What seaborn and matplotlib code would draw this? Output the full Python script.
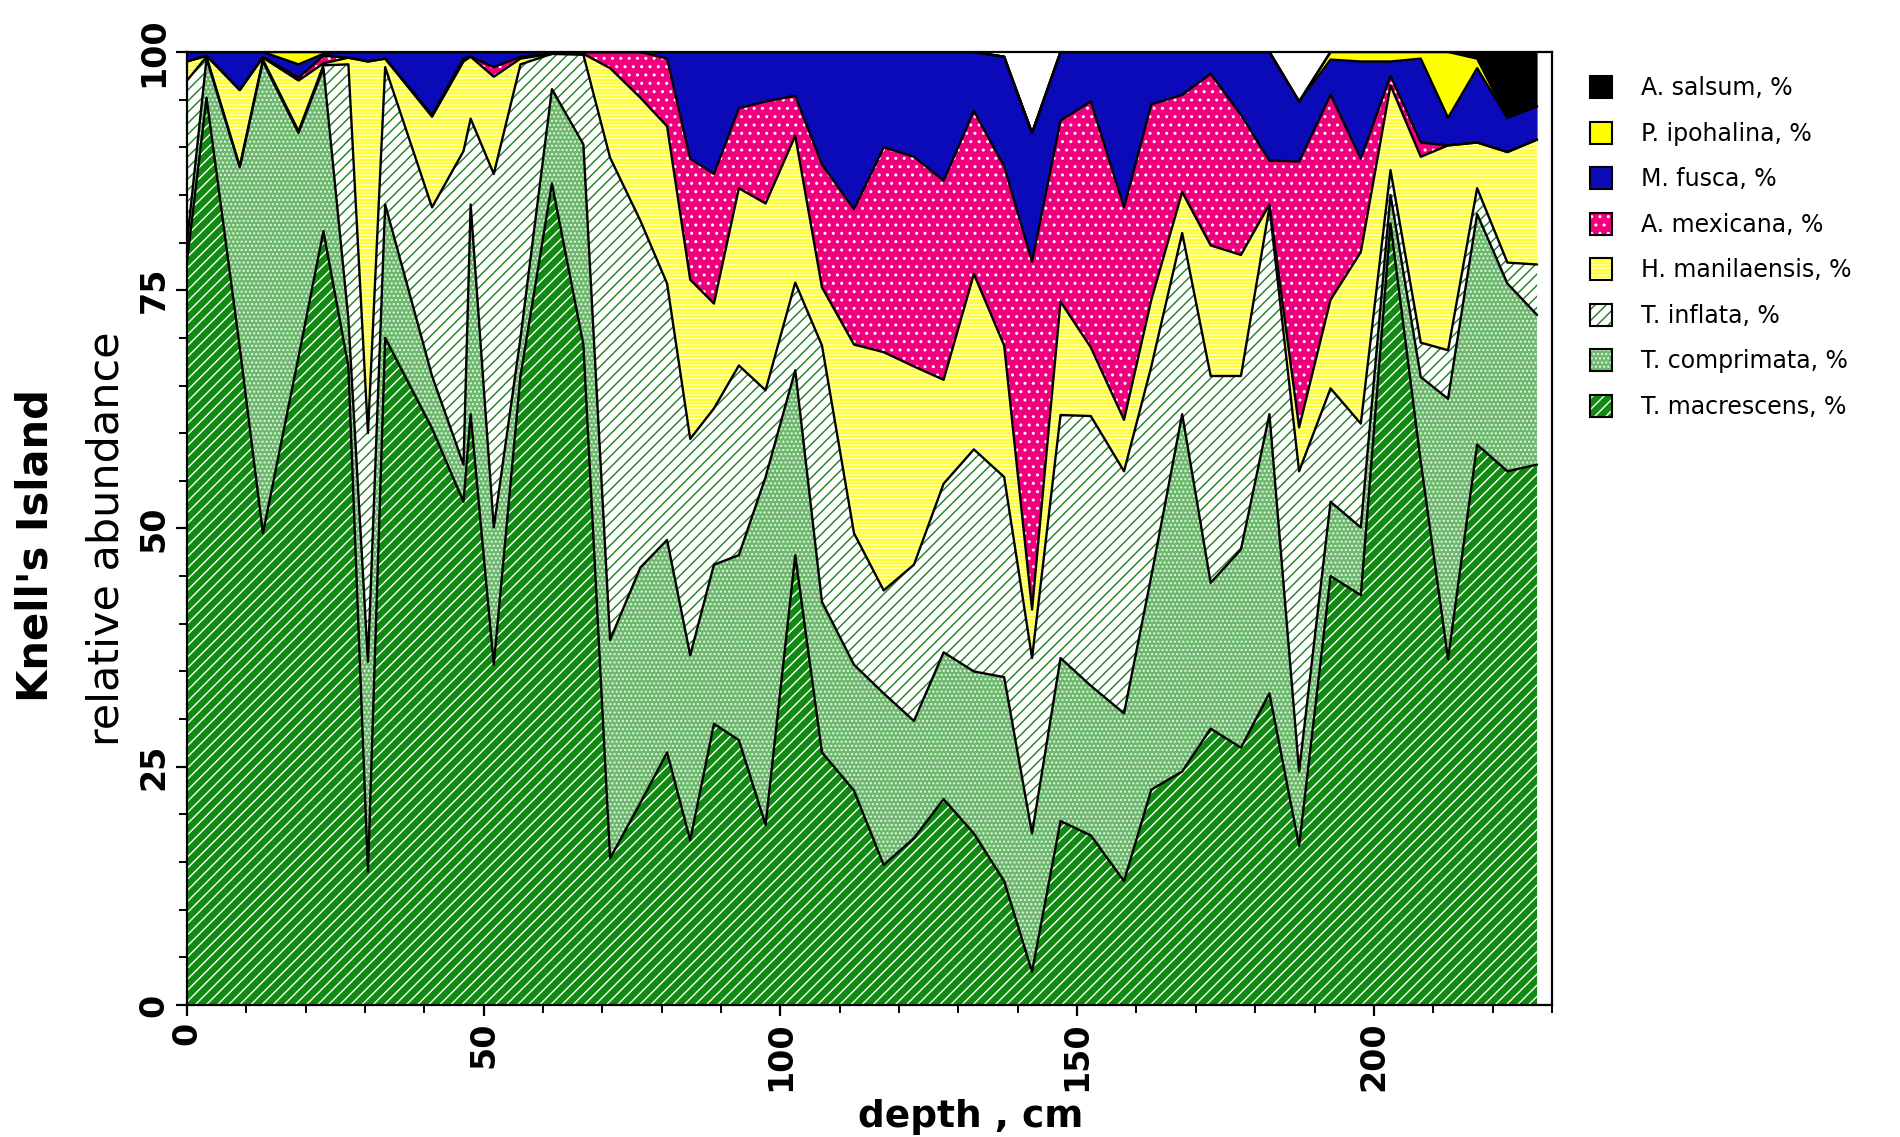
import numpy as np
import matplotlib
matplotlib.use("Agg")
import matplotlib.pyplot as plt
import seaborn as sns
from matplotlib.patches import Rectangle
from matplotlib.legend_handler import HandlerBase
from matplotlib.ticker import MultipleLocator

# ---------------- data ----------------
depth = [0, 3.3, 8.9, 12.8, 18.8, 23, 27.2, 30.5, 33.4, 41.3,
         46.6, 47.8, 51.7, 56.2, 61.5, 66.8, 71.3, 76.4, 80.9, 84.8,
         88.8, 93, 97.5, 102.5, 107, 112.4, 117.4, 122.5, 127.5, 132.6,
         137.7, 142.4, 147.2, 152.3, 157.9, 162.5, 167.7, 172.5, 177.6, 182.4,
         187.4, 192.7, 197.8, 202.8, 207.9, 212.5, 217.4, 222.5, 227.5]

t_macrescens = [78, 95.2, 69, 49.5, 68, 81.2, 67, 14, 70, 60.5,
                52.8, 62, 35.7, 66, 86.2, 69.3, 15.4, 21.2, 26.5, 17.3,
                29.5, 27.8, 18.9, 47.2, 26.5, 22.5, 14.7, 17.5, 21.6, 18,
                13, 3.5, 19.3, 17.8, 13, 22.6, 24.5, 29, 27, 32.7,
                16.7, 45, 43, 82, 57, 36.3, 58.8, 56, 56.7]
t_comprimata = [2, 4.1, 18.9, 49.5, 23.5, 17.1, 5, 22, 14, 5.5,
                3.9, 22, 14.4, 4, 9.9, 21, 22.9, 24.7, 22.3, 19.4,
                16.7, 19.4, 36.5, 19.4, 15.8, 13.2, 18, 12.3, 15.4, 17,
                21.4, 14.5, 17.1, 15.7, 17.6, 22.4, 37.5, 15.3, 20.8, 29.3,
                7.8, 7.8, 7.1, 3, 8.9, 27.3, 24.2, 19.7, 15.7]
t_inflata = [17, 0.2, 0.1, 0.2, 0.2, 0.3, 26.7, 24, 14.4, 17.7,
             32.9, 9, 37.1, 28.7, 3.7, 9.4, 50.6, 36.4, 26.9, 22.7,
             16.4, 19.9, 9.1, 9.2, 26.9, 13.8, 10.8, 16.4, 17.7, 23.3,
             21, 18.4, 25.5, 28.3, 25.4, 22, 19, 21.7, 18.2, 21.7,
             31.5, 11.9, 10.9, 2.6, 3.6, 5.1, 2.7, 2.2, 5.3]
h_manilaensis = [2, 0.1, 8, 0.2, 5.3, 0.2, 0.7, 39, 0.9, 9.5,
                 9.4, 6.5, 10.2, 0.6, 0, 0.1, 9.4, 12.9, 16.5, 16.7,
                 11, 18.6, 19.6, 15.4, 6.1, 19.8, 25, 20.8, 10.9, 18.4,
                 13.8, 5.1, 11.9, 7.2, 5.4, 7, 4.3, 13.7, 12.7, 0.3,
                 4.6, 9.3, 18, 8.9, 19.5, 21.5, 4.8, 11.6, 13.1]
a_mexicana = [0, 0, 0, 0.1, 0.3, 0.8, 0, 0, 0, 0.2,
              0.3, 0, 1, 0.2, 0, 0.2, 1.7, 4.8, 7.1, 12.7,
              13.6, 8.4, 10.7, 4.2, 12.9, 14.2, 21.5, 22, 20.9, 17.1,
              18.8, 36.5, 19, 25.8, 22.3, 20.5, 10.2, 18, 14.7, 4.6,
              27.9, 21.5, 9.8, 1, 1.5, 0, 0, 0, 0]
m_fusca = [1, 0.4, 4, 0.5, 1.4, 0.2, 0.6, 1, 0.7, 6.6,
           0.7, 0.5, 1.6, 0.5, 0.2, 0, 0, 0, 0.7, 11.2,
           12.8, 5.9, 5.2, 4.6, 11.8, 16.5, 10, 11, 13.5, 6.2,
           11.5, 13.5, 7.2, 5.2, 16.3, 5.5, 4.5, 2.3, 6.6, 11.4,
           6.3, 3.7, 10.2, 1.5, 8.8, 2.9, 7.8, 3.6, 3.5]
p_ipohalina = [0, 0, 0, 0, 1.3, 0.2, 0, 0, 0, 0,
               0, 0, 0, 0, 0, 0, 0, 0, 0, 0,
               0, 0, 0, 0, 0, 0, 0, 0, 0, 0,
               0, 0, 0, 0, 0, 0, 0, 0, 0, 0,
               0, 0.8, 1, 1, 0.7, 6.9, 1, 0, 0]
a_salsum = [0, 0, 0, 0, 0, 0, 0, 0, 0, 0,
            0, 0, 0, 0, 0, 0, 0, 0, 0, 0,
            0, 0, 0, 0, 0, 0, 0, 0, 0, 0,
            0, 0, 0, 0, 0, 0, 0, 0, 0, 0,
            0, 0, 0, 0, 0, 0, 0.7, 6.9, 5.7]

labels = ["T. macrescens, %", "T. comprimata, %", "T. inflata, %",
          "H. manilaensis, %", "A. mexicana, %", "M. fusca, %",
          "P. ipohalina, %", "A. salsum, %"]
layers = [t_macrescens, t_comprimata, t_inflata, h_manilaensis,
          a_mexicana, m_fusca, p_ipohalina, a_salsum]

# style per layer: face colour, hatch colour, hatch
styles = [("#118a11", "white", "///"),
          ("#6cb86c", "#e8f5e8", "...."),
          ("white", "#1c7f1c", "///"),
          ("#ffff2a", "#ffffc8", "-----"),
          ("#f0007c", "white", ".."),
          ("#0a0ab8", "#0a0ab8", None),
          ("#ffff00", "#ffff00", None),
          ("black", "black", None)]

# ---------------- figure ----------------
sns.set_theme(style="ticks")
plt.rcParams["font.family"] = ["DejaVu Sans"]
plt.rcParams["hatch.linewidth"] = 1.0
for k in ["text.color", "axes.labelcolor", "xtick.color", "ytick.color",
          "xtick.labelcolor", "ytick.labelcolor", "axes.edgecolor"]:
    plt.rcParams[k] = "black"

fig = plt.figure(figsize=(19, 11.37), dpi=100)
ax = fig.add_axes([0.0984, 0.1161, 0.7184, 0.8382])
ax.set_facecolor("white")

polys = ax.stackplot(depth, *layers,
                     colors=[s[0] for s in styles], linewidth=0)
for p, (fc, hc, h) in zip(polys, styles):
    p.set_edgecolor(hc)
    p.set_linewidth(0)
    if h:
        p.set_hatch(h)

cum = np.cumsum(np.array(layers, dtype=float), axis=0)
for row in cum:
    sns.lineplot(x=depth, y=row, ax=ax, color="black", linewidth=1.7,
                 estimator=None, sort=False, legend=False)

ax.set_xlim(0, 230)
ax.set_ylim(0, 100)
ax.set_xticks([0, 50, 100, 150, 200])
ax.set_yticks([0, 25, 50, 75, 100])
ax.xaxis.set_minor_locator(MultipleLocator(10))
ax.yaxis.set_minor_locator(MultipleLocator(5))
ax.tick_params(axis="both", which="major", direction="out", length=8,
               width=1.6, color="black", labelsize=24, pad=4,
               labelcolor="black")
ax.tick_params(axis="both", which="minor", direction="out", length=6,
               width=1.4, color="black")
for lab in ax.get_xticklabels():
    lab.set_rotation(90)
    lab.set_fontweight("bold")
for lab in ax.get_yticklabels():
    lab.set_rotation(90)
    lab.set_fontweight("bold")
    lab.set_va("center")
for sp in ax.spines.values():
    sp.set_visible(True)
    sp.set_linewidth(1.6)
    sp.set_color("black")
ax.set_xlabel("")
ax.set_ylabel("")

fig.text(971 / 1900, 1 - 1117 / 1137, "depth , cm", fontsize=27,
         fontweight="bold", ha="center", va="center", color="black")
fig.text(36 / 1900, 1 - 545 / 1137, "Knell's Island", fontsize=30,
         fontweight="bold", rotation=90, ha="center", va="center",
         color="black")
fig.text(107 / 1900, 1 - 539 / 1137, "relative abundance", fontsize=31,
         rotation=90, ha="center", va="center", color="black")


# ---------------- legend ----------------
class Swatch:
    def __init__(self, fc, hc, hatch):
        self.fc, self.hc, self.hatch = fc, hc, hatch


class SwatchHandler(HandlerBase):
    def create_artists(self, legend, orig, xdescent, ydescent, width,
                       height, fontsize, trans):
        s = min(width, height)
        r1 = Rectangle((-xdescent, -ydescent), s, s, facecolor=orig.fc,
                       edgecolor=orig.hc, hatch=orig.hatch, linewidth=0,
                       transform=trans)
        r2 = Rectangle((-xdescent, -ydescent), s, s, facecolor="none",
                       edgecolor="black", linewidth=1.5, transform=trans)
        return [r1, r2]


handles = [Swatch(*s) for s in styles][::-1]
leg = fig.legend(handles, labels[::-1], handler_map={Swatch: SwatchHandler()},
                 loc="upper left", bbox_to_anchor=(1590 / 1900, 1 - 76 / 1137),
                 frameon=False, fontsize=17, handlelength=1.06,
                 handleheight=1.06, handletextpad=1.1, labelspacing=0.91,
                 borderpad=0, borderaxespad=0)
for t in leg.get_texts():
    t.set_color("black")

fig.savefig("out.png", dpi=100, facecolor="white")
